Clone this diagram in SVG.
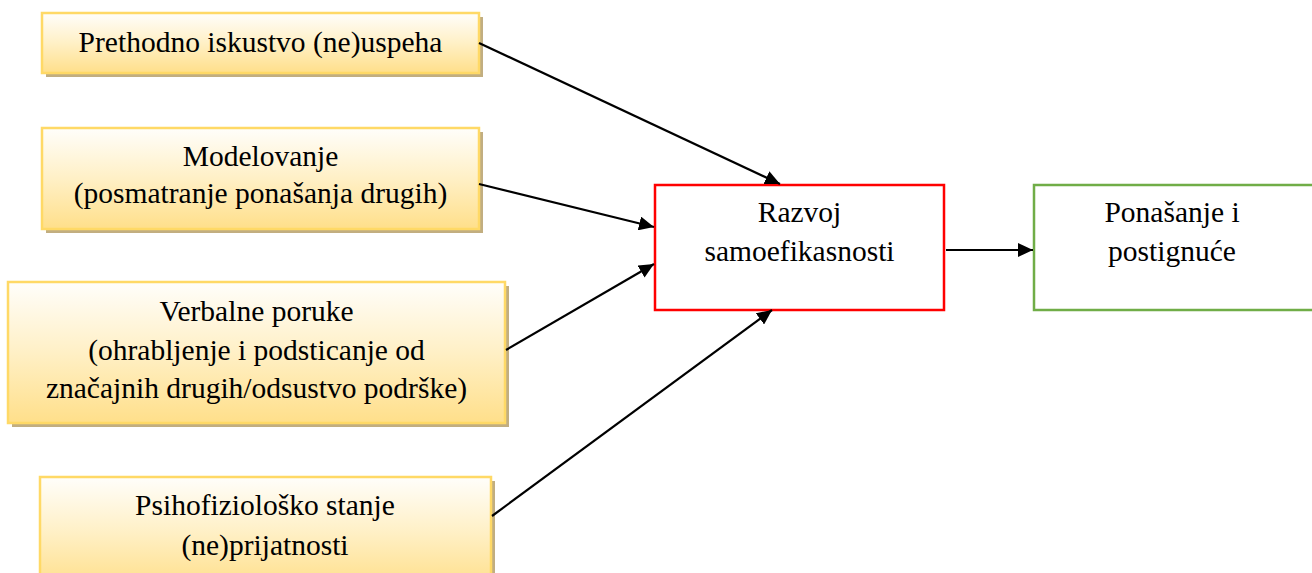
<svg xmlns="http://www.w3.org/2000/svg" width="1312" height="573" viewBox="0 0 1312 573">
<style>
.lbl{font-family:'Liberation Serif','Times New Roman',serif;font-size:29.5px;fill:#000;text-anchor:middle}
.src{fill:url(#gold);stroke:#ffd966;stroke-width:2.5}
.shd{fill:#c2ae80}
.conn{stroke:#000;stroke-width:2.2;fill:none;marker-end:url(#arr)}
</style>
<defs>
<linearGradient id="gold" x1="0" y1="0" x2="0" y2="1">
<stop offset="0" stop-color="#fffefb"/>
<stop offset="0.5" stop-color="#fff0c6"/>
<stop offset="1" stop-color="#ffdf8a"/>
</linearGradient>
<marker id="arr" markerUnits="userSpaceOnUse" markerWidth="16" markerHeight="14" refX="15" refY="7" orient="auto">
<path d="M0,0 L15,7 L0,14 z" fill="#000"/>
</marker>
</defs>
<g id="n1">
<rect class="shd" x="46" y="17" width="437" height="60"/>
<rect class="src" x="42" y="13" width="437" height="60"/>
<text class="lbl" x="260.5" y="52">Prethodno iskustvo (ne)uspeha</text>
</g>
<g id="n2">
<rect class="shd" x="46" y="132" width="437" height="101"/>
<rect class="src" x="42" y="128" width="437" height="101"/>
<text class="lbl" x="260.5" y="166">Modelovanje</text>
<text class="lbl" x="260.5" y="203">(posmatranje ponašanja drugih)</text>
</g>
<g id="n3">
<rect class="shd" x="12" y="286" width="497" height="141"/>
<rect class="src" x="8" y="282" width="497" height="141"/>
<text class="lbl" x="256.5" y="321">Verbalne poruke</text>
<text class="lbl" x="256.5" y="359.5">(ohrabljenje i podsticanje od</text>
<text class="lbl" x="256.5" y="398">značajnih drugih/odsustvo podrške)</text>
</g>
<g id="n4">
<rect class="shd" x="44" y="481" width="451" height="110"/>
<rect class="src" x="40" y="477" width="451" height="110"/>
<text class="lbl" x="265" y="515">Psihofiziološko stanje</text>
<text class="lbl" x="265" y="555">(ne)prijatnosti</text>
</g>
<g id="n5">
<rect x="655" y="185" width="289" height="125" fill="#fff" stroke="#ff0000" stroke-width="2.5"/>
<text class="lbl" x="799.5" y="222">Razvoj</text>
<text class="lbl" x="799.5" y="261">samoefikasnosti</text>
</g>
<g id="n6">
<rect x="1034" y="185" width="282" height="125" fill="#fff" stroke="#70ad47" stroke-width="2.5"/>
<text class="lbl" x="1172" y="222">Ponašanje i</text>
<text class="lbl" x="1172" y="261">postignuće</text>
</g>
<g id="connectors">
<line class="conn" x1="479" y1="43" x2="780" y2="184"/>
<line class="conn" x1="479" y1="184" x2="654" y2="227"/>
<line class="conn" x1="506" y1="350" x2="654" y2="264"/>
<line class="conn" x1="492" y1="516" x2="772" y2="310"/>
<line class="conn" x1="946" y1="250" x2="1033" y2="250"/>
</g>
</svg>
